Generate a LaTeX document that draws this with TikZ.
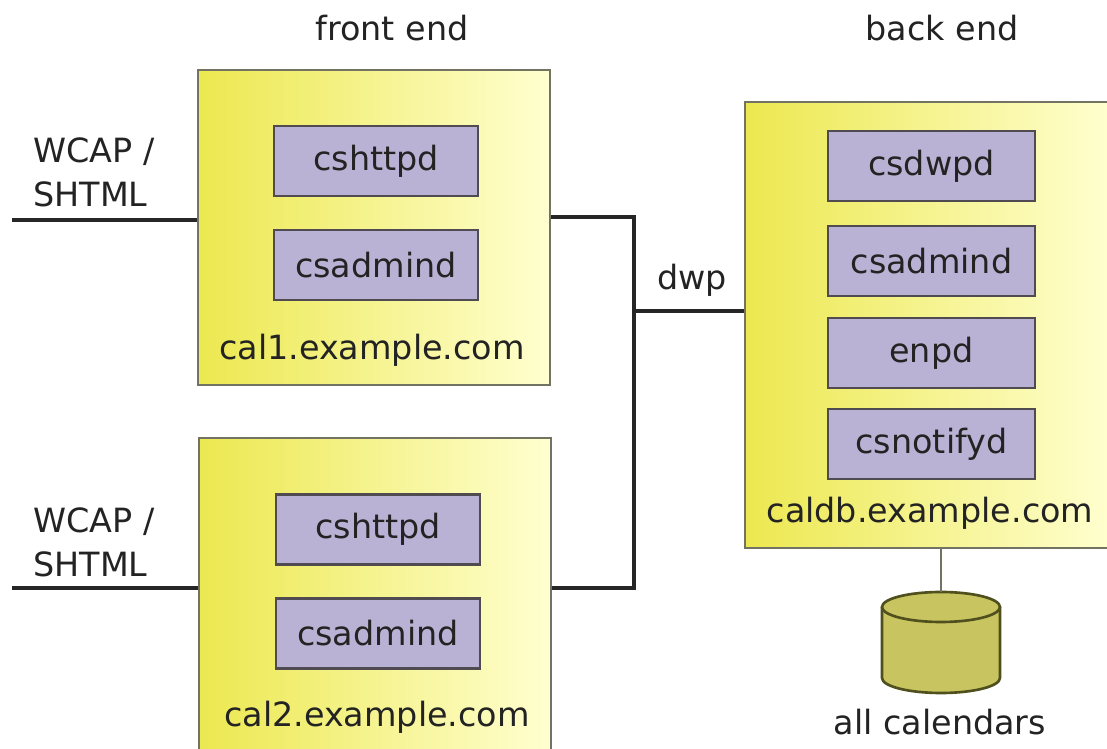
\documentclass[tikz,border=0pt]{standalone}
\usepackage{fontspec}
\setmainfont{DejaVu Sans}

\definecolor{hostleft}{RGB}{236,232,80}
\definecolor{hostright}{RGB}{255,255,208}
\definecolor{hostline}{RGB}{115,115,100}
\definecolor{daemonfill}{RGB}{186,178,212}
\definecolor{daemonline}{RGB}{80,75,80}
\definecolor{dbfill}{RGB}{200,196,96}
\definecolor{dbline}{RGB}{80,80,30}
\definecolor{labeltext}{RGB}{35,35,35}

\begin{document}
\begin{tikzpicture}[x=0.02cm, y=-0.02cm,
    every node/.style={font=\fontsize{19pt}{25pt}\selectfont, text=labeltext},
    host/.style={draw=hostline, line width=1.2pt, left color=hostleft, right color=hostright, inner sep=0pt},
    daemon/.style={draw=daemonline, line width=1.2pt, fill=daemonfill, minimum width=4.08cm, minimum height=1.4cm, inner sep=0pt},
    wire/.style={line width=2.8pt, black!85},
    cask/.style={draw=dbline, line width=1.5pt, fill=dbfill},
  ]
    \useasboundingbox (0,0) rectangle (1107,749);
    \fill[white] (0,0) rectangle (1107,749);

    % Column titles
    \node (fronttitle) at (392,28) {front end};
    \node (backtitle) at (942,28) {back end};

    % Front end hosts
    \node[host, minimum width=7.04cm, minimum height=6.3cm] (cal1) at (374,227.5) {};
    \node[host, minimum width=7.04cm, minimum height=6.44cm] (cal2) at (375,599) {};
    \node[daemon] (httpd1) at (376,161) {cshttpd};
    \node[daemon] (admind1) at (376,265) {csadmind};
    \node (cal1name) at (372,350) {cal1.example.com};
    \node[daemon] (httpd2) at (378,529.5) {cshttpd};
    \node[daemon] (admind2) at (378,633.5) {csadmind};
    \node (cal2name) at (377,717) {cal2.example.com};

    % Back end host
    \node[host, minimum width=7.34cm, minimum height=8.92cm] (caldb) at (928.5,325) {};
    \node[daemon, minimum width=4.14cm] (dwpd) at (931.5,166) {csdwpd};
    \node[daemon, minimum width=4.14cm] (admindb) at (931.5,261) {csadmind};
    \node[daemon, minimum width=4.14cm] (enpd) at (931.5,353) {enpd};
    \node[daemon, minimum width=4.14cm] (notifyd) at (931.5,444) {csnotifyd};
    \node (caldbname) at (930,513) {caldb.example.com};

    % Calendar store
    \node[minimum width=2.36cm, minimum height=2.02cm, inner sep=0pt] (calstore) at (941,642.5) {};
    \draw[cask] (882,607) -- (882,678) arc[start angle=180, end angle=360, x radius=1.18cm, y radius=0.3cm] -- (1000,607);
    \draw[cask] (941,607) ellipse [x radius=1.18cm, y radius=0.3cm];
    \node (storename) at (940,722) {all calendars};
    \draw[line width=0.8pt, hostline] (caldb.south -| calstore.north) -- (calstore.north);

    % Client protocols
    \coordinate (web1) at (12,220);
    \coordinate (web2) at (12,588);
    \node[align=left, anchor=south west, inner sep=0pt] (proto1) at (33,207) {WCAP /\\SHTML};
    \node[align=left, anchor=south west, inner sep=0pt] (proto2) at (33,577) {WCAP /\\SHTML};
    \draw[wire] (web1) -- (web1 -| cal1.west);
    \draw[wire] (web2) -- (web2 -| cal2.west);

    % dwp bus
    \coordinate (busknee) at (634,311);
    \draw[wire] ([yshift=0.21cm]cal1.east) -| (busknee) |- ([yshift=0.22cm]cal2.east);
    \draw[wire] (busknee) -- (busknee -| caldb.west);
    \node (dwplabel) at (692,280) {dwp};

\end{tikzpicture}
\end{document}
